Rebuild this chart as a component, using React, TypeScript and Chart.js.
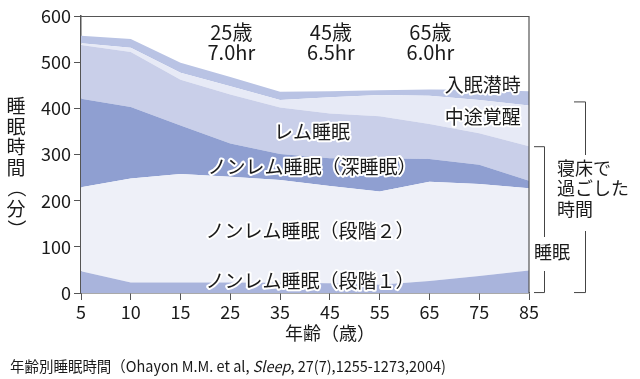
import React, { useEffect, useRef } from 'react';
import { Chart, registerables } from 'chart.js';

Chart.register(...registerables);

// ---- data (minutes per stage, stacked from the bottom) ----
const ages = ['5', '10', '15', '25', '35', '45', '55', '65', '75', '85'];
const stage1 = [47, 23, 23, 23, 22, 21, 18, 26, 37, 49];
const stage2 = [182, 225, 235, 229, 223, 211, 202, 215, 199, 178];
const deepSleep = [192, 155, 105, 72, 56, 60, 72, 49, 42, 16];
const remSleep = [116, 119, 99, 106, 101, 97, 91, 76, 68, 75];
const wakeAfterOnset = [4, 9, 15, 18, 16, 35, 46, 61, 72, 88];
const sleepLatency = [16, 19, 22, 20, 18, 13, 10, 14, 22, 31];

const layerNames = [
  'ノンレム睡眠（段階１）',
  'ノンレム睡眠（段階２）',
  'ノンレム睡眠（深睡眠）',
  'レム睡眠',
  '中途覚醒',
  '入眠潜時',
];
const layerColors = ['#a9b4dc', '#eef0f8', '#8f9fd1', '#c9cfe9', '#e7eaf6', '#b9c3e4'];
// label anchor: [category index, minutes]
const layerLabelAt = [
  [4.6, 27],
  [4.6, 135],
  [4.64, 274],
  [4.64, 349],
  [8.07, 381],
  [8.07, 450],
];

const noteAges = ['25', '45', '65'];
const noteLines1 = ['25歳', '45歳', '65歳'];
const noteLines2 = ['7.0hr', '6.5hr', '6.0hr'];

const yTitleChars = ['睡', '眠', '時', '間', '（', '分', '）'];
const xTitle = '年齢（歳）';
const sleepBracketLabel = '睡眠';
const bedBracketLabel = ['寝床で', '過ごした', '時間'];
const captionMain = '年齢別睡眠時間（Ohayon M.M. et al, ';
const captionItalic = 'Sleep';
const captionTail = ', 27(7),1255-1273,2004)';

const FONT = '"Noto Sans CJK JP", "Noto Sans", sans-serif';
const INK = '#1a1a1a';
const AXIS = '#555555';

const series = [stage1, stage2, deepSleep, remSleep, wakeAfterOnset, sleepLatency];

const annotate = {
  id: 'annotate',
  afterDraw(chart: any) {
    const ctx: CanvasRenderingContext2D = chart.ctx;
    const { left, right, top, bottom } = chart.chartArea;
    const xs = chart.scales.x;
    const ys = chart.scales.y;
    ctx.save();

    // frame top + right
    ctx.strokeStyle = AXIS;
    ctx.lineWidth = 1.2;
    ctx.beginPath();
    ctx.moveTo(left, top + 0.5);
    ctx.lineTo(right, top + 0.5);
    ctx.moveTo(right, top);
    ctx.lineTo(right, bottom);
    ctx.stroke();

    // layer labels with white halo
    ctx.textAlign = 'center';
    ctx.textBaseline = 'middle';
    ctx.font = `19px ${FONT}`;
    ctx.lineJoin = 'round';
    layerNames.forEach((name, i) => {
      const [ci, v] = layerLabelAt[i];
      const px = xs.getPixelForValue(ci);
      const py = ys.getPixelForValue(v);
      ctx.strokeStyle = '#ffffff';
      ctx.lineWidth = 4;
      ctx.strokeText(name, px, py);
      ctx.fillStyle = INK;
      ctx.fillText(name, px, py);
    });

    // top notes
    ctx.font = `20px ${FONT}`;
    ctx.fillStyle = INK;
    noteAges.forEach((a, i) => {
      const px = xs.getPixelForValue(ages.indexOf(a)) + 1;
      ctx.fillText(noteLines1[i], px, ys.getPixelForValue(565));
      ctx.fillText(noteLines2[i], px, ys.getPixelForValue(522));
    });

    // y title (vertical)
    ctx.font = `19px ${FONT}`;
    yTitleChars.forEach((c, i) => {
      const cy = 106 + i * 20.5;
      if (c === '（' || c === '）') {
        ctx.save();
        ctx.translate(16, cy);
        ctx.rotate(Math.PI / 2);
        ctx.fillText(c, 0, 0);
        ctx.restore();
      } else {
        ctx.fillText(c, 16, cy);
      }
    });

    // x title
    ctx.font = `18px ${FONT}`;
    ctx.fillText(xTitle, (left + right) / 2 + 25, 333);

    // brackets
    ctx.strokeStyle = '#444';
    ctx.lineWidth = 1;
    const yb = ys.getPixelForValue(2);
    const yi = ys.getPixelForValue(318);
    const yo = ys.getPixelForValue(415);
    const ix0 = right + 5, ix1 = right + 15;
    const ox0 = right + 45, ox1 = right + 56;
    ctx.beginPath();
    ctx.moveTo(ix0, yi + 0.5); ctx.lineTo(ix1 + 0.5, yi + 0.5); ctx.lineTo(ix1 + 0.5, 237);
    ctx.moveTo(ix1 + 0.5, 271); ctx.lineTo(ix1 + 0.5, yb + 0.5); ctx.lineTo(ix0, yb + 0.5);
    ctx.moveTo(ox0, yo + 0.5); ctx.lineTo(ox1 + 0.5, yo + 0.5); ctx.lineTo(ox1 + 0.5, 155);
    ctx.moveTo(ox1 + 0.5, 231); ctx.lineTo(ox1 + 0.5, yb + 0.5); ctx.lineTo(ox0, yb + 0.5);
    ctx.stroke();

    ctx.textAlign = 'left';
    ctx.font = `18px ${FONT}`;
    ctx.fillText(sleepBracketLabel, right + 5, 252);
    bedBracketLabel.forEach((t, i) => {
      ctx.fillText(t, right + 28, 168 + i * 20.5);
    });

    // caption
    const cx = 10, cy = 366;
    ctx.font = `15px ${FONT}`;
    const w1 = ctx.measureText(captionMain).width;
    ctx.font = `italic 15px ${FONT}`;
    const w2 = ctx.measureText(captionItalic).width;
    ctx.font = `15px ${FONT}`;
    const w3 = ctx.measureText(captionTail).width;
    const sx = 436 / (w1 + w2 + w3);
    ctx.save();
    ctx.translate(cx, cy);
    ctx.scale(sx, 1);
    ctx.font = `15px ${FONT}`;
    ctx.fillText(captionMain, 0, 0);
    ctx.font = `italic 15px ${FONT}`;
    ctx.fillText(captionItalic, w1, 0);
    ctx.font = `15px ${FONT}`;
    ctx.fillText(captionTail, w1 + w2, 0);
    ctx.restore();

    ctx.restore();
  },
};

export default function App() {
  const ref = useRef<HTMLCanvasElement>(null);
  useEffect(() => {
    const canvas = ref.current;
    if (!canvas) return;
    const chart = new Chart(canvas, {
      type: 'line',
      data: {
        labels: ages,
        datasets: series.map((d, i) => ({
          label: layerNames[i],
          data: d,
          backgroundColor: layerColors[i],
          borderColor: layerColors[i],
          borderWidth: 0,
          pointRadius: 0,
          pointHoverRadius: 0,
          tension: 0,
          fill: i === 0 ? 'origin' : '-1',
        })),
      },
      options: {
        animation: false,
        responsive: false,
        devicePixelRatio: 1,
        layout: { padding: { left: 0, right: 111, top: 16, bottom: 0 } },
        plugins: { legend: { display: false }, tooltip: { enabled: false }, title: { display: false } },
        scales: {
          x: {
            type: 'category',
            offset: false,
            grid: { drawOnChartArea: false, drawTicks: true, tickLength: 7, color: AXIS },
            border: { display: true, color: AXIS, width: 1.5 },
            ticks: { color: INK, font: { family: FONT, size: 18 }, padding: 1, maxRotation: 0, autoSkip: false },
            afterFit: (s: any) => { s.height = 86; },
          },
          y: {
            stacked: true,
            min: 0,
            max: 600,
            grid: { drawOnChartArea: false, drawTicks: true, tickLength: 7, color: AXIS },
            border: { display: true, color: AXIS, width: 1.5 },
            ticks: { stepSize: 100, color: INK, font: { family: FONT, size: 18 }, padding: 3 },
            afterFit: (s: any) => { s.width = 81; },
          },
        },
      },
      plugins: [annotate],
    });
    return () => chart.destroy();
  }, []);
  return (
    <div style={{ position: 'fixed', left: 0, top: 0, width: 640, height: 379, background: '#ffffff' }}>
      <canvas ref={ref} width={640} height={379} style={{ display: 'block', width: 640, height: 379 }} />
    </div>
  );
}
